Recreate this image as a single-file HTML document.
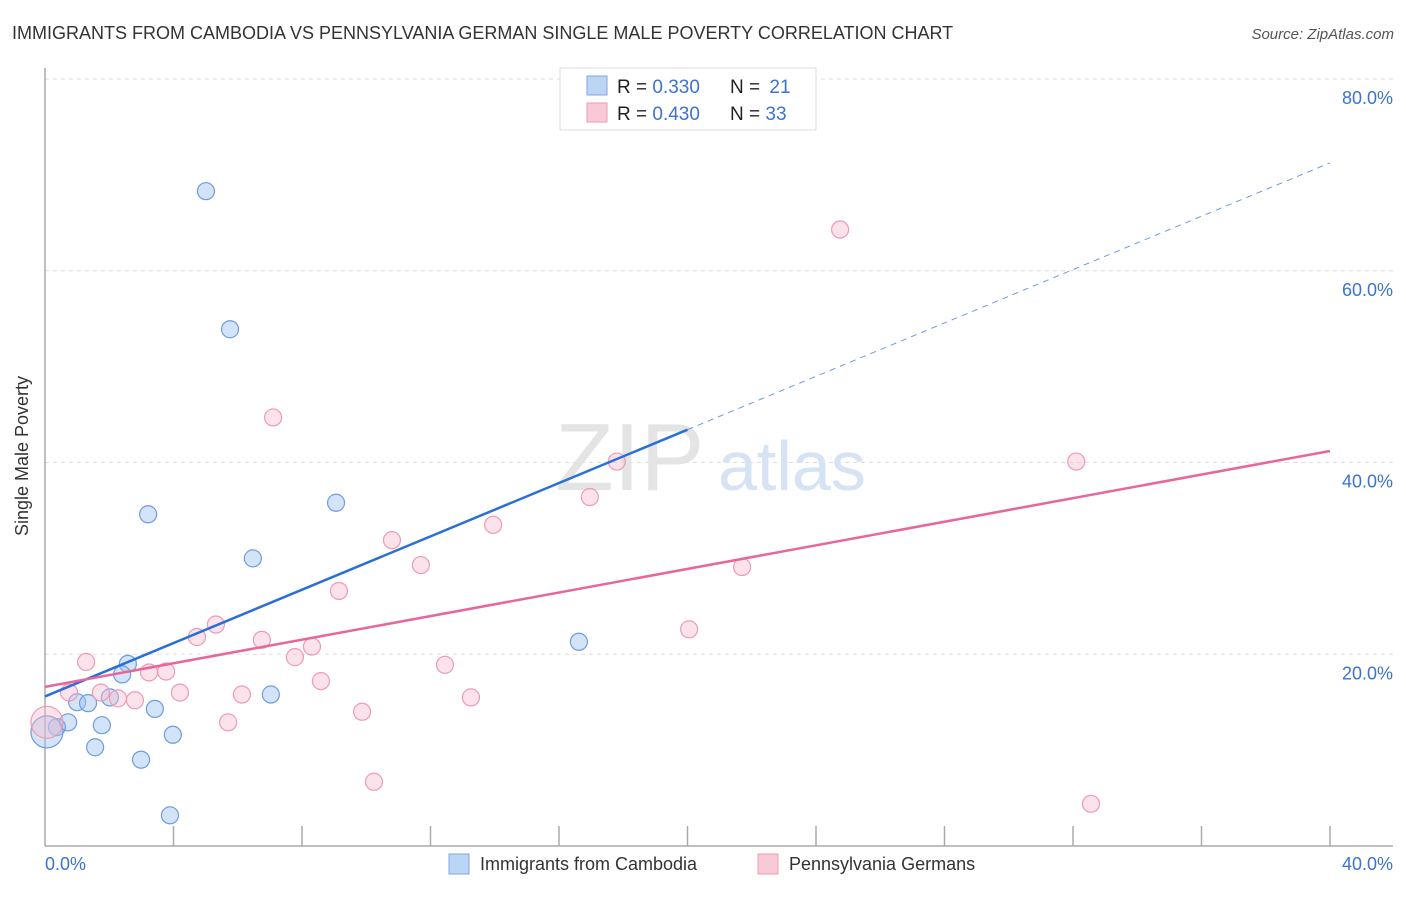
<!DOCTYPE html>
<html><head><meta charset="utf-8"><style>
body{margin:0;background:#fff;font-family:"Liberation Sans",sans-serif;}
svg text{font-family:"Liberation Sans",sans-serif;}
</style></head><body>
<svg id="chart" width="1406" height="892" viewBox="0 0 1406 892" xmlns="http://www.w3.org/2000/svg">
<text x="12" y="39" font-size="18" fill="#333">IMMIGRANTS FROM CAMBODIA VS PENNSYLVANIA GERMAN SINGLE MALE POVERTY CORRELATION CHART</text>
<text x="1394" y="39" font-size="15" fill="#555" font-style="italic" text-anchor="end">Source: ZipAtlas.com</text>
<g id="grid"></g>
<text x="555" y="490" font-size="96" fill="#e4e4e4" font-family="Liberation Serif">ZIP</text>
<text x="718" y="490" font-size="70" fill="#d5e3f5">atlas</text>
<line x1="45" y1="68" x2="45" y2="846" stroke="#aaa" stroke-width="1.5"/>
<line x1="45" y1="846" x2="1393" y2="846" stroke="#aaa" stroke-width="1.5"/>
<g id="xticks"></g>
<g id="points"></g>
<g id="trends"></g>
<text x="28" y="456" font-size="18" fill="#333" text-anchor="middle" transform="rotate(-90 28 456)">Single Male Poverty</text>
<text x="45" y="870" font-size="18" fill="#3b73d1">0.0%</text>
<text x="1393" y="870" font-size="18" fill="#3b73d1" text-anchor="end">40.0%</text>
<g>
<rect x="560" y="68" width="256" height="62" fill="#fff" stroke="#ddd"/>
<rect x="587" y="76" width="20" height="19" fill="#bcd5f5" stroke="#7fa8e6"/>
<rect x="587" y="103" width="20" height="19" fill="#fac9d7" stroke="#ee9ab3"/>
<text x="617" y="93" font-size="19" fill="#222">R = <tspan fill="#3b73d1">0.330</tspan></text>
<text x="730" y="93" font-size="19" fill="#222">N = <tspan fill="#3b73d1" dx="4">21</tspan></text>
<text x="617" y="120" font-size="19" fill="#222">R = <tspan fill="#3b73d1">0.430</tspan></text>
<text x="730" y="120" font-size="19" fill="#222">N = <tspan fill="#3b73d1">33</tspan></text>
</g>
<g>
<rect x="449" y="854" width="20" height="20" fill="#bcd5f5" stroke="#7fa8e6"/>
<text x="480" y="870" font-size="18" fill="#333">Immigrants from Cambodia</text>
<rect x="758" y="854" width="20" height="20" fill="#fac9d7" stroke="#ee9ab3"/>
<text x="789" y="870" font-size="18" fill="#333">Pennsylvania Germans</text>
</g>
</svg>
<script>
const yTicks=[20,40,60,80];
const yTickLabels=["20.0%","40.0%","60.0%","80.0%"];
const xTicks=[4,8,12,16,20,24,28,32,36,40];
const blueX=[5.01,5.76,3.21,9.06,6.47,16.62,2.58,2.40,2.02,1.00,1.34,3.42,0.72,1.77,0.37,3.98,1.56,2.99,3.89,7.03,0.06];
const blueY=[68.3,53.9,34.6,35.8,30.0,21.3,19.0,17.9,15.5,15.0,14.9,14.3,12.9,12.6,12.4,11.6,10.3,9.0,3.2,15.8,11.9];
const blueR=[8.5,8.5,8.5,8.5,8.5,8.5,8.5,8.5,8.5,8.5,8.5,8.5,8.5,8.5,8.5,8.5,8.5,8.5,8.5,8.5,16];
const pinkX=[24.75,7.10,17.8,32.1,16.96,13.95,10.80,11.70,21.7,9.15,5.32,20.05,4.73,6.75,8.31,7.78,1.28,12.45,3.24,3.77,8.59,4.20,0.75,1.74,6.13,2.27,2.80,13.26,9.87,5.70,10.24,32.56,0.06];
const pinkY=[64.3,44.7,40.1,40.1,36.4,33.5,31.9,29.3,29.1,26.6,23.1,22.6,21.8,21.5,20.8,19.7,19.2,18.9,18.1,18.2,17.2,16.0,16.0,16.0,15.8,15.4,15.2,15.5,14.0,12.9,6.7,4.4,12.9];
const pinkR=[8.5,8.5,8.5,8.5,8.5,8.5,8.5,8.5,8.5,8.5,8.5,8.5,8.5,8.5,8.5,8.5,8.5,8.5,8.5,8.5,8.5,8.5,8.5,8.5,8.5,8.5,8.5,8.5,8.5,8.5,8.5,8.5,16];
const blueTrend=[15.6,71.25];
const pinkTrend=[16.6,41.2];
const blueSolidEnd=20;
const NS="http://www.w3.org/2000/svg";
function xs(v){return 45+v*(1285/40);}
function ys(v){return 846-v*(767/80);}
function mk(tag,attrs,parent){const e=document.createElementNS(NS,tag);for(const k in attrs)e.setAttribute(k,attrs[k]);document.getElementById(parent).appendChild(e);return e;}
yTicks.forEach((t,i)=>{
 const l=mk('line',{x1:45,x2:1393,y1:ys(t),y2:ys(t),stroke:'#ddd','stroke-dasharray':'4,4'},'grid');
 
 
 const tx=mk('text',{x:1393,y:ys(t)+25,'font-size':18,fill:'#3b73d1','text-anchor':'end'},'grid');
 tx.textContent=yTickLabels[i];
 
 
});
xTicks.forEach(t=>{
 const l=mk('line',{x1:xs(t),x2:xs(t),y1:826,y2:846,stroke:'#aaa','stroke-width':1.5},'xticks');
 
 
});
blueX.forEach((x,i)=>{
 const c=mk('circle',{cx:xs(x),cy:ys(blueY[i]),r:blueR[i],fill:'rgba(160,195,240,0.45)',stroke:'#6f9be0','stroke-width':1.2},'points');
 
 
});
pinkX.forEach((x,i)=>{
 const c=mk('circle',{cx:xs(x),cy:ys(pinkY[i]),r:pinkR[i],fill:'rgba(248,185,205,0.4)',stroke:'#ee9ab3','stroke-width':1.2},'points');
 
 
});
function tv(tr,x){return tr[0]+(tr[1]-tr[0])*x/40;}
let l=mk('line',{x1:xs(0),y1:ys(tv(blueTrend,0)),x2:xs(blueSolidEnd),y2:ys(tv(blueTrend,blueSolidEnd)),stroke:'#2a6fd6','stroke-width':2.5},'trends');


l=mk('line',{x1:xs(blueSolidEnd),y1:ys(tv(blueTrend,blueSolidEnd)),x2:xs(40),y2:ys(tv(blueTrend,40)),stroke:'#6f9be0','stroke-width':1,'stroke-dasharray':'6,5'},'trends');


l=mk('line',{x1:xs(0),y1:ys(tv(pinkTrend,0)),x2:xs(40),y2:ys(tv(pinkTrend,40)),stroke:'#e8679a','stroke-width':2.5},'trends');


</script>
</body></html>
